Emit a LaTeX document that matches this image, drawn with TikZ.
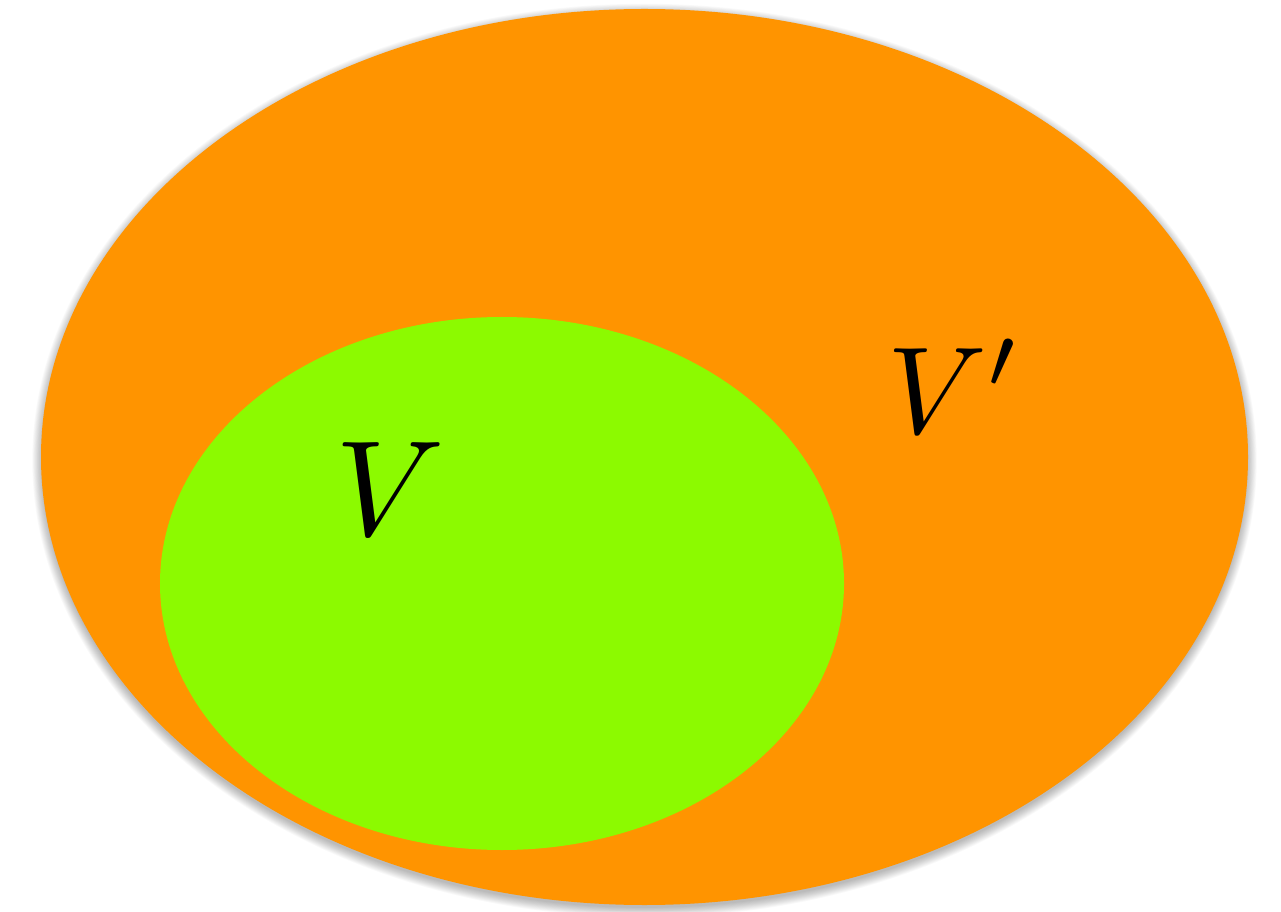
\documentclass[tikz,border=0pt]{standalone}
\usepackage{graphicx}
\definecolor{outerorange}{RGB}{255,148,0}
\definecolor{innergreen}{RGB}{140,250,0}
\tikzset{
  outerset/.style={fill=outerorange, draw=none},
  innerset/.style={fill=innergreen, draw=none},
  setlabel/.style={inner sep=0pt, anchor=base, text=black}
}
\begin{document}
\begin{tikzpicture}[x=1pt,y=1pt]
\useasboundingbox (0,0) rectangle (1281,911);
\fill[white] (0,0) rectangle (1281,911);
% soft shadow
\foreach \i in {1,...,12}{
  \fill[black, opacity=0.022] (644.5,450.5) ellipse ({602+\i*0.85} and {446.5+\i*0.85});
}
\fill[outerset] (644.5,454) ellipse (603.5 and 448);
\coordinate (outer) at (644.5,454);
\fill[innerset] (502,327.5) ellipse (342 and 266.5);
\coordinate (inner) at (502,327.5);
\node[setlabel] (lv) at (390,376) {\scalebox{13.6}{$V$}};
\node[setlabel, anchor=base west] (lvp) at (887,478) {\scalebox{12.4}{$V'$}};
\end{tikzpicture}
\end{document}
